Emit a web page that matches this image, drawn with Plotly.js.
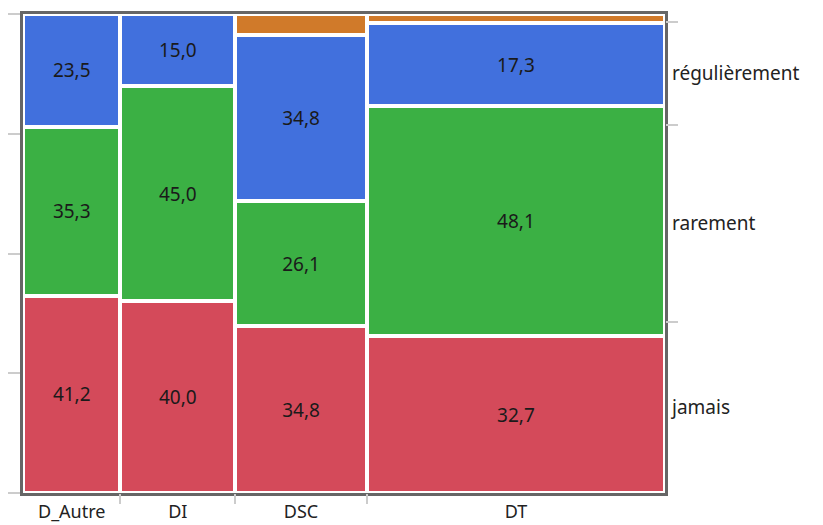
<!DOCTYPE html>
<html>
<head>
<meta charset="utf-8">
<script src="https://cdn.plot.ly/plotly-3.0.1.min.js"></script>
<style>
  body { margin: 0; background: #fff; }
  #plot { width: 823px; height: 525px; }
</style>
</head>
<body>
<div id="plot"></div>
<script>
// groups along the bottom and their sizes (column widths)
var groups = ["D_Autre", "DI", "DSC", "DT"];
var groupCounts = [17, 20, 23, 52];

// percentages inside each column, bottom to top
var levels = ["jamais", "rarement", "régulièrement"];
var jamais = [41.2, 40.0, 34.8, 32.7];
var rarement = [35.3, 45.0, 26.1, 48.1];
var regulierement = [23.5, 15.0, 34.8, 17.3];
var autre = [0, 0, 4.3, 1.9];   // thin orange band, not labelled

var colors = ["#D44A5A", "#3BB044", "#4170DD", "#D07A2A"];

// column positions from cumulative counts
var starts = [], centers = [], total = 0;
groupCounts.forEach(function (n) {
  starts.push(total);
  centers.push(total + n / 2);
  total += n;
});
var bounds = starts.slice(1);

// overall shares for the right hand labels
function share(arr) {
  var s = 0;
  arr.forEach(function (p, i) { s += p * groupCounts[i]; });
  return s / total;
}
var shares = [share(jamais), share(rarement), share(regulierement)];
var mids = [], edges = [], acc = 0;
shares.forEach(function (s) {
  mids.push(acc + s / 2);
  acc += s;
  edges.push(acc);
});

function band(y, color, withText) {
  return {
    type: "bar",
    x: centers,
    y: y,
    width: groupCounts,
    marker: { color: color, line: { color: "#ffffff", width: 4 } },
    texttemplate: withText ? "%{y:.1f}" : "",
    textposition: withText ? "inside" : "none",
    insidetextanchor: "middle",
    textangle: 0,
    constraintext: "none",
    textfont: { color: "#1a1a1a", size: 19, family: "Noto Sans" },
    hoverinfo: "skip",
    showlegend: false
  };
}

var data = [
  band(jamais, colors[0], true),
  band(rarement, colors[1], true),
  band(regulierement, colors[2], true),
  band(autre, colors[3], false)
];

var layout = {
  width: 823,
  height: 525,
  margin: { l: 23, r: 158, t: 14, b: 32 },
  paper_bgcolor: "#ffffff",
  plot_bgcolor: "#ffffff",
  barmode: "stack",
  separators: ", ",
  font: { family: "Noto Sans", size: 19, color: "#222" },
  xaxis: {
    range: [0, total],
    tickvals: centers,
    ticktext: groups,
    tickfont: { size: 18 },
    ticks: "",
    ticklabelstandoff: 0,
    showgrid: false,
    zeroline: false,
    showline: true,
    mirror: true,
    linecolor: "#666666",
    linewidth: 3,
    fixedrange: true
  },
  xaxis2: {
    overlaying: "x",
    anchor: "y",
    side: "bottom",
    range: [0, total],
    tickvals: bounds,
    showticklabels: false,
    ticks: "outside",
    ticklen: 10,
    tickcolor: "#cccccc",
    tickwidth: 2,
    showgrid: false,
    zeroline: false
  },
  yaxis: {
    range: [0, 100],
    tickvals: [0, 25, 50, 75, 100],
    showticklabels: false,
    ticks: "outside",
    ticklen: 12,
    tickcolor: "#cccccc",
    tickwidth: 2,
    showgrid: false,
    zeroline: false,
    showline: true,
    mirror: true,
    linecolor: "#666666",
    linewidth: 3,
    fixedrange: true
  },
  yaxis2: {
    overlaying: "y",
    anchor: "x",
    side: "right",
    range: [0, 100],
    tickvals: mids,
    ticktext: levels,
    ticks: "",
    ticklabelstandoff: 6,
    showgrid: false,
    zeroline: false
  },
  yaxis3: {
    overlaying: "y",
    anchor: "x",
    side: "right",
    range: [0, 100],
    tickvals: edges,
    showticklabels: false,
    ticks: "outside",
    ticklen: 12,
    tickcolor: "#cccccc",
    tickwidth: 2,
    showgrid: false,
    zeroline: false
  }
};

// empty traces so the extra axes are drawn
data.push({ type: "scatter", x: [], y: [], xaxis: "x2", yaxis: "y", showlegend: false, hoverinfo: "skip" });
data.push({ type: "scatter", x: [], y: [], xaxis: "x", yaxis: "y2", showlegend: false, hoverinfo: "skip" });
data.push({ type: "scatter", x: [], y: [], xaxis: "x", yaxis: "y3", showlegend: false, hoverinfo: "skip" });

Plotly.newPlot("plot", data, layout, { displayModeBar: false, staticPlot: true });
</script>
</body>
</html>
